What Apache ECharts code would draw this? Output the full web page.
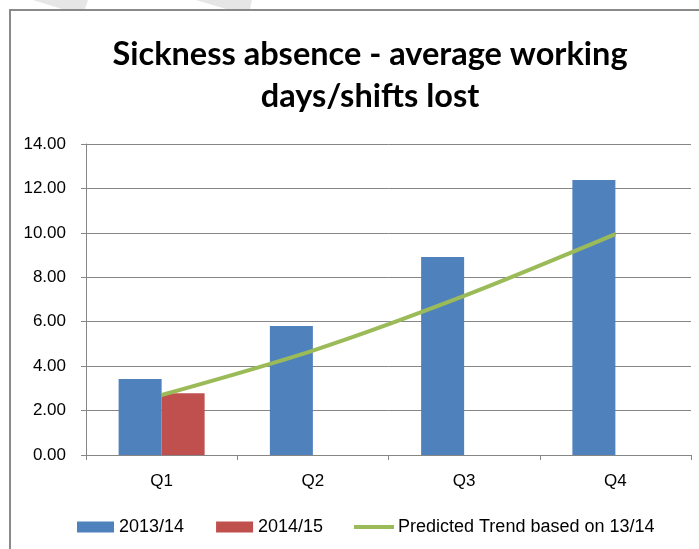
<!DOCTYPE html>
<html>
<head>
<meta charset="utf-8">
<script src="https://cdn.jsdelivr.net/npm/echarts@6/dist/echarts.min.js"></script>
<style>
html,body{margin:0;padding:0;background:#fff;}
#charts{width:699px;height:549px;}
</style>
</head>
<body>
<div id="charts"></div>
<script>
// 数据
var quarters = ['Q1', 'Q2', 'Q3', 'Q4'];
var year1314 = [3.42, 5.81, 8.91, 12.38];
var year1415 = [2.78, null, null, null];
var trend = [2.70, 4.70, 7.16, 9.94];

var myChart = echarts.init(document.getElementById('charts'));

var labelFont = '"Liberation Sans", Arial, sans-serif';

option = {
    animation: false,
    title: {
        text: 'Sickness absence - average working\ndays/shifts lost',
        left: 365,
        top: 29,
        textAlign: 'center',
        textStyle: {
            fontFamily: 'Lato, "Liberation Sans", sans-serif',
            fontSize: 32.5,
            fontWeight: 'bold',
            color: '#000',
            lineHeight: 42
        }
    },
    graphic: [
        // 水印斜条
        {
            type: 'polygon',
            shape: {points: [[33, 0], [88, 0], [85, 9], [62, 9]]},
            style: {fill: '#e6e6e6'}
        },
        {
            type: 'polygon',
            shape: {points: [[196, 0], [252, 0], [250, 9], [226, 9]]},
            style: {fill: '#e6e6e6'}
        },
        {
            type: 'rect',
            shape: {x: 10, y: 10, width: 700, height: 560},
            style: {fill: 'none', stroke: '#8a8a8a', lineWidth: 2}
        }
    ],
    legend: [
        {
            top: 513,
            left: 72,
            itemGap: 32,
            itemWidth: 37,
            itemHeight: 11,
            icon: 'rect',
            textStyle: {fontFamily: labelFont, fontSize: 18, color: '#000'},
            data: ['2013/14', '2014/15']
        },
        {
            top: 513,
            left: 349,
            itemWidth: 40,
            itemHeight: 4,
            icon: 'rect',
            textStyle: {fontFamily: labelFont, fontSize: 18, color: '#000', padding: [0, 0, 0, -1]},
            data: ['Predicted Trend based on 13/14']
        }
    ],
    grid: {
        left: 86,
        right: 8,
        top: 144,
        bottom: 94
    },
    xAxis: {
        type: 'category',
        data: quarters,
        axisLine: {lineStyle: {color: '#868686'}},
        axisTick: {show: true, length: 5, lineStyle: {color: '#868686'}},
        axisLabel: {fontFamily: labelFont, fontSize: 17, color: '#000', margin: 18}
    },
    yAxis: {
        type: 'value',
        min: 0,
        max: 14,
        interval: 2,
        axisLine: {show: true, lineStyle: {color: '#868686'}},
        axisTick: {show: true, length: 5, lineStyle: {color: '#868686'}},
        splitLine: {lineStyle: {color: '#868686'}},
        axisLabel: {
            fontFamily: labelFont, fontSize: 17, color: '#000', margin: 20,
            formatter: function (v) { return v.toFixed(2); }
        }
    },
    series: [
        {
            name: '2013/14',
            type: 'bar',
            data: year1314,
            barWidth: 43,
            barGap: '0%',
            itemStyle: {color: '#4f81bd'}
        },
        {
            name: '2014/15',
            type: 'bar',
            data: year1415,
            barWidth: 43,
            itemStyle: {color: '#c0504d'}
        },
        {
            name: 'Predicted Trend based on 13/14',
            type: 'line',
            data: trend,
            smooth: 0.3,
            symbol: 'none',
            lineStyle: {color: '#9bbb59', width: 4},
            itemStyle: {color: '#9bbb59'}
        }
    ]
};

myChart.setOption(option);
</script>
</body>
</html>
